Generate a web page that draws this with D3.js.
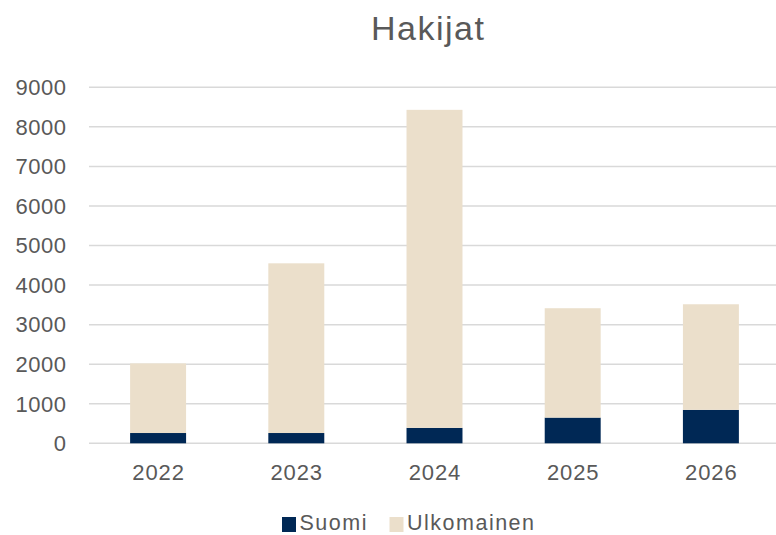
<!DOCTYPE html>
<html><head><meta charset="utf-8">
<script src="https://cdn.jsdelivr.net/npm/d3@7"></script>
<style>body{margin:0;background:#fff;} svg{display:block;font-family:"Liberation Sans",Arial,sans-serif;}</style>
</head><body><svg id="c" width="776" height="535"></svg>
<script>
const years = ["2022","2023","2024","2025","2026"];
const suomi = [260, 260, 390, 650, 845];
const ulkomainen = [1760, 4290, 8040, 2765, 2670];
const yTicks = [0,1000,2000,3000,4000,5000,6000,7000,8000,9000];
const seriesNames = ["Suomi","Ulkomainen"];
const colors = ["#002855","#EBDFCB"];

const svg = d3.select("#c");
const x = d3.scaleBand().domain(years).range([89,780]).paddingInner(0.595).paddingOuter(0.2975);
const y = d3.scaleLinear().domain([0,9000]).range([443.3,87.3]);

svg.append("g").selectAll("line").data(yTicks).join("line")
  .attr("x1",89).attr("x2",776).attr("y1",d=>y(d)).attr("y2",d=>y(d))
  .attr("stroke","#D9D9D9").attr("stroke-width",1.5);

const rows = years.map((yr,i)=>({year:yr, Suomi:suomi[i], Ulkomainen:ulkomainen[i]}));
const stacked = d3.stack().keys(seriesNames)(rows);
svg.append("g").selectAll("g").data(stacked).join("g").attr("fill",(d,i)=>colors[i])
  .selectAll("rect").data(d=>d).join("rect")
  .attr("x",d=>x(d.data.year)).attr("width",x.bandwidth())
  .attr("y",d=>y(d[1])).attr("height",d=>y(d[0])-y(d[1]));

svg.append("g").selectAll("text").data(yTicks).join("text")
  .attr("x",66+0.5).attr("y",d=>y(d)+7.8).attr("text-anchor","end")
  .attr("font-size",22).attr("letter-spacing",0.5).attr("fill","#595959").text(d=>d);

svg.append("g").selectAll("text").data(years).join("text")
  .attr("x",d=>x(d)+x.bandwidth()/2+0.45).attr("y",480).attr("text-anchor","middle")
  .attr("font-size",22).attr("letter-spacing",0.9).attr("fill","#595959").text(d=>d);

svg.append("text").attr("x",427.5+0.75).attr("y",40).attr("text-anchor","middle")
  .attr("font-size",34).attr("letter-spacing",1.5).attr("fill","#595959").text("Hakijat");

const leg = [{n:"Suomi",x:282},{n:"Ulkomainen",x:389.5}];
leg.forEach((l,i)=>{
  svg.append("rect").attr("x",l.x).attr("y",517).attr("width",14).attr("height",15).attr("fill",colors[i]);
  svg.append("text").attr("x",l.x+17.5).attr("y",530).attr("font-size",21.5).attr("letter-spacing",1.5)
    .attr("fill","#595959").text(l.n);
});
</script></body></html>
